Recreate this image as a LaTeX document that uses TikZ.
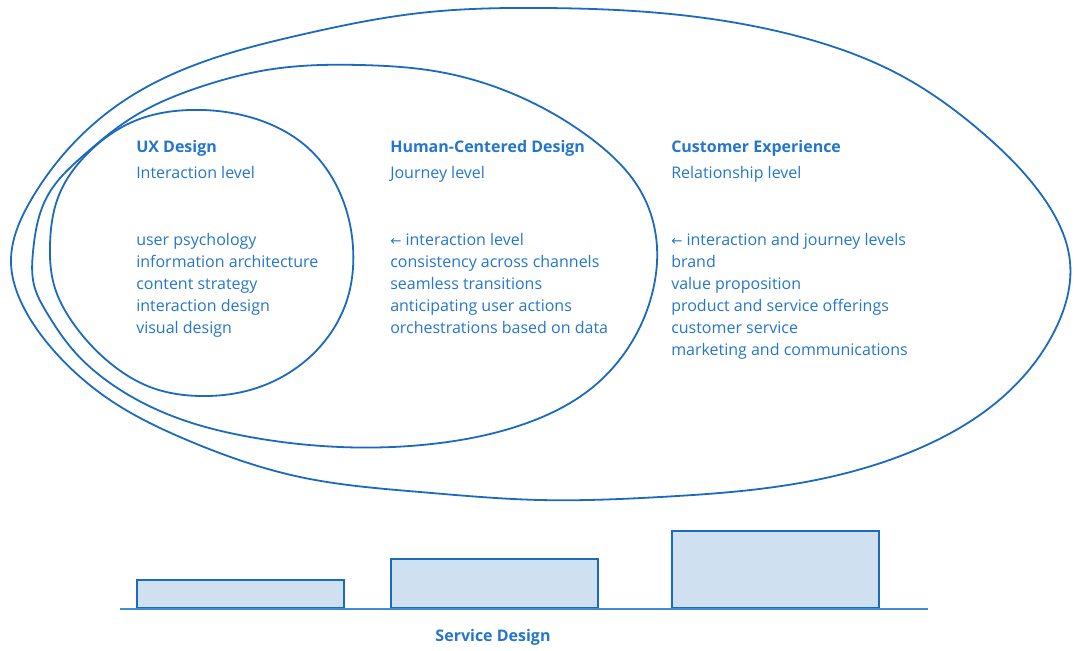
\documentclass[tikz,border=0pt]{standalone}
\usepackage{fontspec}
\setmainfont{Open Sans}
\newfontfamily\arrowfont{DejaVu Sans}
\usepackage{xcolor}
\usetikzlibrary{hobby}

\definecolor{lineblue}{RGB}{28,106,192}
\definecolor{textblue}{RGB}{36,118,204}
\definecolor{barfill}{RGB}{207,224,240}
\definecolor{floorblue}{RGB}{66,140,210}

\newcommand{\backarrow}{{\arrowfont\fontsize{10}{12}\selectfont ←}}

\tikzset{
  blob/.style={draw=lineblue, line width=1.35pt},
  title/.style={anchor=base west, inner sep=0, text=textblue, font=\fontsize{12}{16}\selectfont\bfseries},
  level/.style={anchor=base west, inner sep=0, text=textblue, font=\fontsize{12}{16}\selectfont},
  bar/.style={draw=lineblue, line width=1.6pt, fill=barfill}
}

\begin{document}
\begin{tikzpicture}[x=0.75pt, y=-0.75pt]
    \useasboundingbox (0,0) rectangle (1080,650);

    % nested areas
    \draw[blob] plot[closed hobby] coordinates {(11,262) (31,200) (70,147) (125,100) (200,63) (300,35) (420,13) (545,8) (660,13) (793,35) (900,75) (985,135) (1045,200) (1070,262) (1055,330) (1005,395) (920,448) (800,483) (660,497) (540,500) (420,492) (300,477) (187,440) (113,402) (55,352) (24,308)};
    \draw[blob] plot[closed hobby] coordinates {(33,252) (48,195) (84,155) (133,117) (200,87) (273,69) (360,65) (440,72) (527,100) (593,140) (640,190) (657,247) (653,290) (633,340) (593,387) (527,423) (440,443) (340,447) (250,437) (183,420) (110,383) (73,350) (47,313) (34,285)};
    \draw[blob] plot[closed hobby] coordinates {(50,245) (59,195) (88,153) (137,120) (190,110) (253,118) (307,147) (340,193) (353,247) (347,300) (317,350) (250,390) (200,396) (150,387) (110,363) (73,323) (54,285)};

    \node[title] (ux) at (136,152) {UX Design};
    \node[level] (uxlevel) at (136,178) {Interaction level};
    \foreach \txt [count=\i] in {user psychology, information architecture, content strategy, interaction design, visual design}
        \node[level] (ux\i) at (136,223+22*\i) {\txt};

    \node[title] (hcd) at (390,152) {Human-Centered Design};
    \node[level] (hcdlevel) at (390,178) {Journey level};
    \foreach \txt [count=\i] in {\backarrow\ interaction level, consistency across channels, seamless transitions, anticipating user actions, orchestrations based on data}
        \node[level] (hcd\i) at (390,223+22*\i) {\txt};

    \node[title] (cx) at (671,152) {Customer Experience};
    \node[level] (cxlevel) at (671,178) {Relationship level};
    \foreach \txt [count=\i] in {\backarrow\ interaction and journey levels, brand, value proposition, product and service offerings, customer service, marketing and communications}
        \node[level] (cx\i) at (671,223+22*\i) {\txt};

    % service design bars
    \draw[bar] (137,580) rectangle (344,608);
    \draw[bar] (391,559) rectangle (598,608);
    \draw[bar] (672,531) rectangle (879,608);
    \coordinate (floorL) at (120,609);
    \coordinate (floorR) at (928,609);
    \draw[floorblue, line width=1.5pt] (floorL) -- (floorR);
    \node[title, anchor=base] (sd) at (493,641) {Service Design};
\end{tikzpicture}
\end{document}
